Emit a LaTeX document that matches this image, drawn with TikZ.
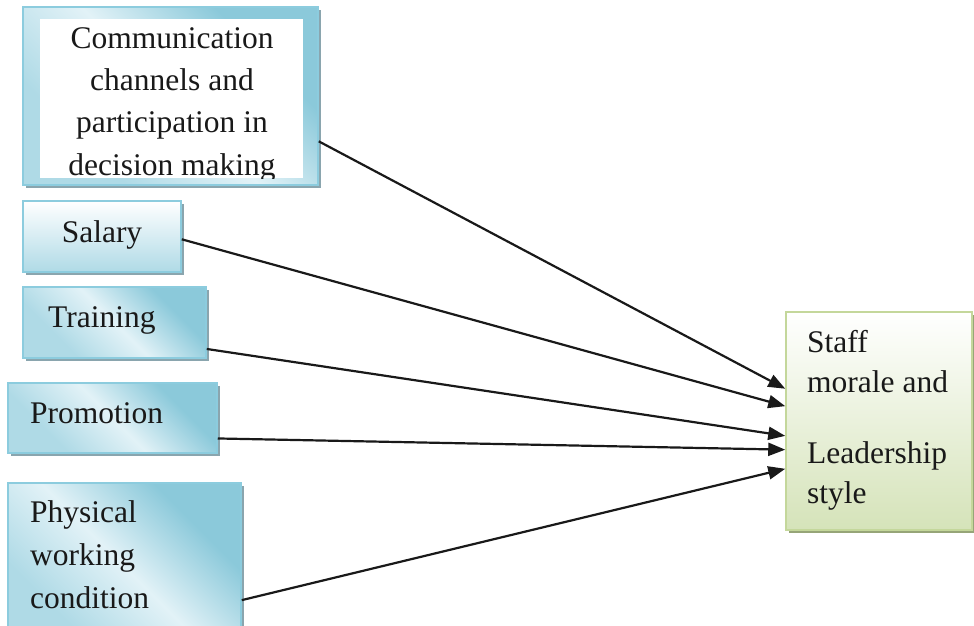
\documentclass[tikz,border=0pt]{standalone}
\usepackage{fontspec}
\setmainfont{Liberation Serif}
\usetikzlibrary{arrows.meta,shadows}
\definecolor{bborder}{RGB}{140,204,222}
\definecolor{bdark}{RGB}{139,201,218}
\definecolor{blight}{RGB}{226,242,247}
\definecolor{bmid}{RGB}{175,218,230}
\definecolor{bshadow}{RGB}{138,165,174}
\definecolor{gborder}{RGB}{196,215,155}
\definecolor{gfill}{RGB}{213,227,185}
\definecolor{gshadow}{RGB}{150,165,120}
\pgfdeclarehorizontalshading{bluediag}{100bp}{color(0bp)=(bmid); color(30bp)=(bmid); color(50bp)=(blight); color(70bp)=(bdark); color(100bp)=(bdark)}
\tikzset{
  bbox/.style={draw=bborder, line width=1.5pt, shade, shading=bluediag, shading angle=45,
    drop shadow={fill=bshadow, opacity=1, shadow xshift=3pt, shadow yshift=-3pt},
    rectangle, inner sep=0pt},
  sbox/.style={draw=bborder, line width=1.5pt, top color=white, bottom color=bmid,
    drop shadow={fill=bshadow, opacity=1, shadow xshift=3pt, shadow yshift=-3pt},
    rectangle, inner sep=0pt},
  gbox/.style={draw=gborder, line width=1.5pt, top color=white, bottom color=gfill,
    drop shadow={fill=gshadow, opacity=1, shadow xshift=3pt, shadow yshift=-3pt},
    rectangle, inner sep=0pt},
  lbl/.style={font=\fontsize{31.5}{43}\selectfont, inner sep=0pt, text=black!90},
  arr/.style={line width=2.2pt, black!90, -{Triangle[length=17pt,width=13pt]}}
}
\begin{document}
\begin{tikzpicture}[x=1pt,y=-1pt]
\useasboundingbox (0,0) rectangle (974,625);
\clip (0,0) rectangle (974,625);
% boxes
\node[bbox, minimum width=295pt, minimum height=178pt] (b1) at (170.5,96) {};
\fill[white] (40,19) rectangle (303,178);
\begin{scope}
\clip (40,19) rectangle (303,178);
\node[lbl, font=\fontsize{31.5}{42.3}\selectfont, align=center, anchor=base] (t1) at (172,175) {Communication\\channels and\\participation in\\decision making};
\end{scope}
\node[sbox, minimum width=158pt, minimum height=71pt] (b2) at (102,236.5) {};
\node[lbl, anchor=base] (t2) at (102,242) {Salary};
\node[bbox, minimum width=183pt, minimum height=71pt] (b3) at (114.5,322.5) {};
\node[lbl, anchor=base west] (t3) at (48,327) {Training};
\node[bbox, minimum width=209pt, minimum height=70pt] (b4) at (112.5,418) {};
\node[lbl, anchor=base west] (t4) at (30,423) {Promotion};
\node[bbox, minimum width=233pt, minimum height=167pt] (b5) at (124.5,566.5) {};
\node[lbl, align=left, anchor=base west] (t5) at (30,608) {Physical\\working\\condition};
\node[gbox, minimum width=186pt, minimum height=218pt] (b6) at (879,421) {};
\node[lbl, align=left, anchor=base west] (t6) at (807,503) {Staff\\[-3pt]morale and\\[28pt]Leadership\\[-3pt]style};
% arrows
\draw[arr] (b1.-17.7) -- (b6.161.8);
\draw[arr] (b2.-2) -- (b6.171.5);
\draw[arr] (b3.-16.7) -- (b6.189.1);
\draw[arr] (b4.-11.4) -- (b6.197.7);
\draw[arr] (b5.-16.5) -- (b6.207);
\end{tikzpicture}
\end{document}
